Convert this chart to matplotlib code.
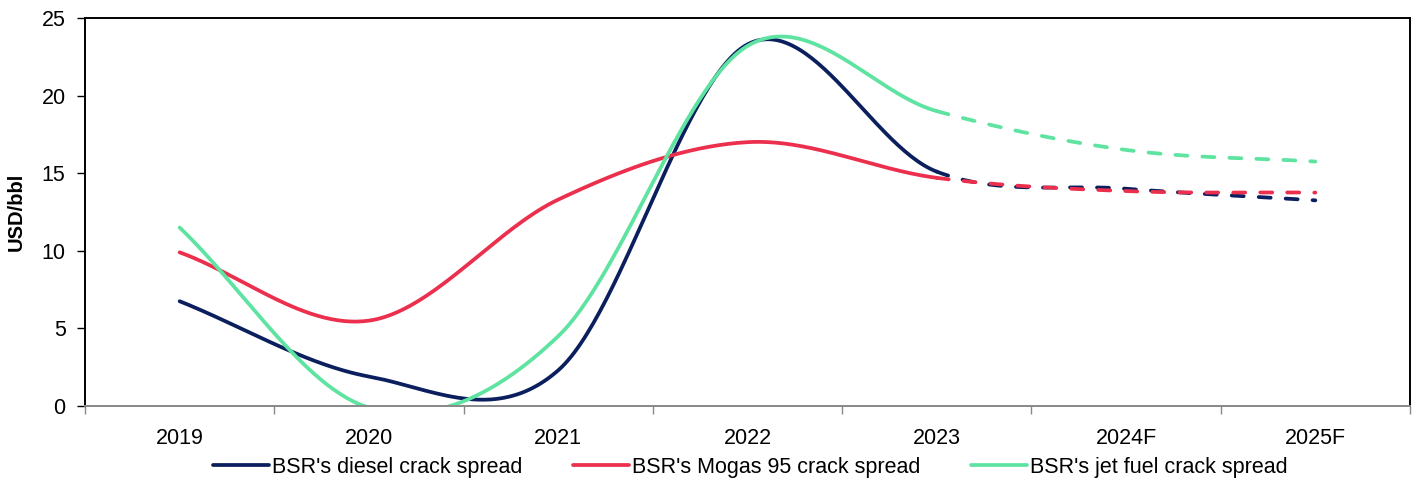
import numpy as np
import matplotlib
matplotlib.use("Agg")
import matplotlib.pyplot as plt
from matplotlib.ticker import FixedLocator, NullFormatter

plt.rcParams['font.family'] = ['Liberation Sans', 'DejaVu Sans']

years = ["2019", "2020", "2021", "2022", "2023", "2024F", "2025F"]
diesel = [6.75, 1.9, 2.3, 23.3, 15.1, 14.0, 13.25]
mogas = [9.9, 5.5, 13.3, 17.0, 14.7, 13.85, 13.75]
jet = [11.5, -0.1, 4.5, 23.2, 19.0, 16.5, 15.75]
n_actual = 5  # last actual point is 2023; after that forecast (dashed)

series = [
    ("BSR's diesel crack spread", diesel, "#0b1f5e"),
    ("BSR's Mogas 95 crack spread", mogas, "#eb2f4d"),
    ("BSR's jet fuel crack spread", jet, "#5ee3a1"),
]


def excel_smooth(x, y, n=60):
    x = np.asarray(x, float)
    y = np.asarray(y, float)
    m = len(x)
    tx = np.zeros(m)
    ty = np.zeros(m)
    for i in range(m):
        if i == 0:
            tx[i], ty[i] = x[1] - x[0], y[1] - y[0]
        elif i == m - 1:
            tx[i], ty[i] = x[-1] - x[-2], y[-1] - y[-2]
        else:
            tx[i], ty[i] = (x[i + 1] - x[i - 1]) / 2, (y[i + 1] - y[i - 1]) / 2
    xs, ys, seg = [], [], []
    t = np.linspace(0, 1, n)
    for i in range(m - 1):
        p0 = np.array([x[i], y[i]])
        p3 = np.array([x[i + 1], y[i + 1]])
        c1 = p0 + np.array([tx[i], ty[i]]) / 3
        c2 = p3 - np.array([tx[i + 1], ty[i + 1]]) / 3
        b = ((1 - t) ** 3)[:, None] * p0 + (3 * (1 - t) ** 2 * t)[:, None] * c1 \
            + (3 * (1 - t) * t ** 2)[:, None] * c2 + (t ** 3)[:, None] * p3
        xs.append(b[:, 0])
        ys.append(b[:, 1])
        seg.append(np.full(n, i))
    return np.concatenate(xs), np.concatenate(ys), np.concatenate(seg)


fig = plt.figure(figsize=(14.13, 4.82), dpi=100)
ax = fig.add_axes([85 / 1413, 1 - 406 / 482, (1410 - 85) / 1413, (406 - 18) / 482])

xpos = np.arange(len(years))
lw = 2.7
for label, vals, col in series:
    sx, sy, seg = excel_smooth(xpos, vals)
    solid = seg < n_actual - 1
    dashed = seg >= n_actual - 1
    ax.plot(sx[solid], sy[solid], color=col, lw=lw, solid_capstyle='round', label=label)
    ax.plot(sx[dashed], sy[dashed], color=col, lw=lw, dashes=(3.2, 4.0), dash_capstyle='round')

ax.set_xlim(-0.5, len(years) - 0.5)
ax.set_ylim(0, 25)
ax.set_yticks([0, 5, 10, 15, 20, 25])
ax.set_xticks(xpos)
ax.set_xticklabels(years)
ax.xaxis.set_minor_locator(FixedLocator(np.arange(len(years) + 1) - 0.5))
ax.xaxis.set_minor_formatter(NullFormatter())
ax.tick_params(axis='x', which='major', length=0, labelsize=15.5, pad=16)
ax.tick_params(axis='x', which='minor', length=6, color='#888888', width=1)
ax.tick_params(axis='y', which='major', length=6, width=1, labelsize=15.5, pad=8)
for s in ['left', 'top', 'right']:
    ax.spines[s].set_color('black')
    ax.spines[s].set_linewidth(1.4)
ax.spines['bottom'].set_color('#888888')
ax.spines['bottom'].set_linewidth(1.4)
ax.set_ylabel("USD/bbl", fontsize=14.5, fontweight='bold', labelpad=11)

fig.legend(loc='center', bbox_to_anchor=(0.531, 0.031), ncol=3, frameon=False,
           fontsize=15.5, handlelength=2.6, handletextpad=0.15, columnspacing=2.35)

fig.savefig("out.png", dpi=100)
